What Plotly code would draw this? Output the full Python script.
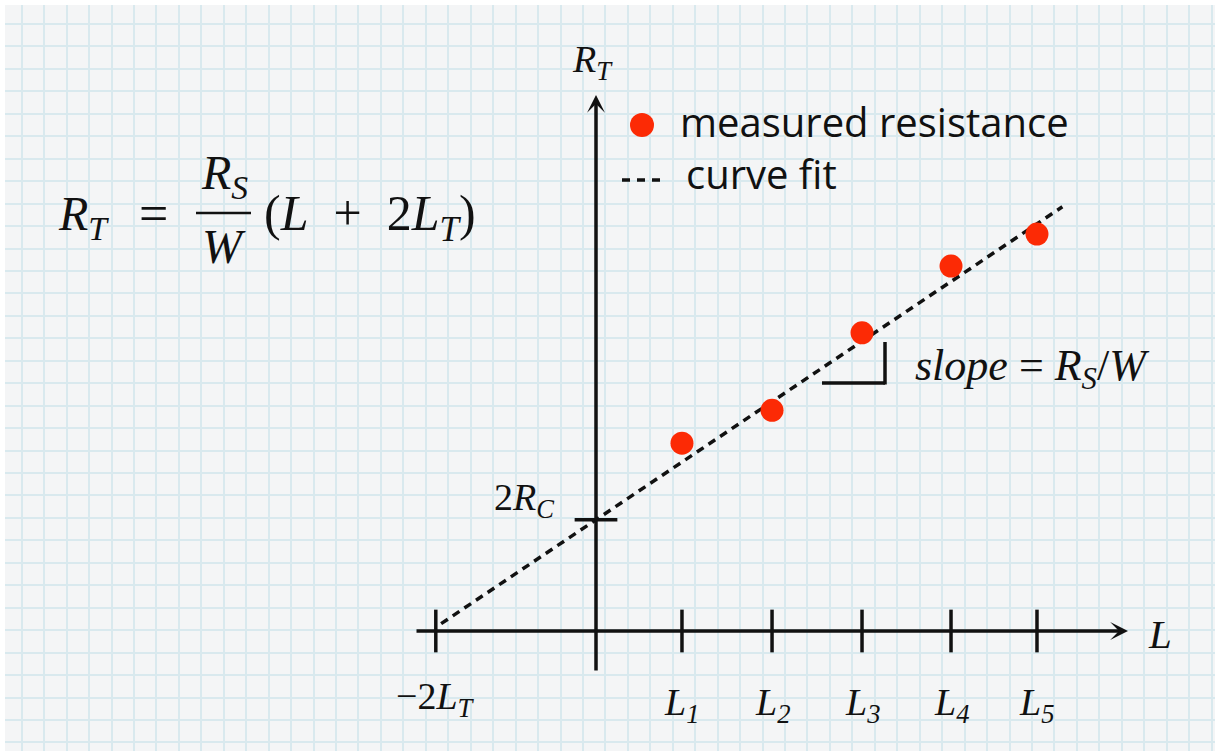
import numpy as np
import plotly.graph_objects as go

# ---- data (arbitrary units: L in length units, R_T in resistance units) ----
tick_labels = ["<i>L</i><sub><i>1</i></sub>", "<i>L</i><sub><i>2</i></sub>",
               "<i>L</i><sub><i>3</i></sub>", "<i>L</i><sub><i>4</i></sub>",
               "<i>L</i><sub><i>5</i></sub>"]
L_values = [9.66, 19.78, 29.89, 39.89, 49.55]
R_measured = [21.1, 24.8, 33.5, 41.0, 44.6]
neg_2LT = -18.0          # x-intercept marker (-2 L_T)
two_RC = 12.5            # y-intercept (2 R_C)
fit_slope = 0.671        # R_S / W
fit_span = [-17.4, 52.4] # extent of the drawn fit line

# ---- styling ----
SERIF = "Liberation Serif"
SANS = "Open Sans"
INK = "#111111"
RED = "#fc2a05"
GRID = "#d9e9ee"
PAPER = "#f4f5f6"
LW = 3.5

# figure pixel geometry: data axes use 8.9 px per unit with origin at (596, 631)
W_PX, H_PX = 1215, 751
ML, MT = 5, 5
PX = 8.9
OX, OY = 596, 631
x_rng = [(ML - OX) / PX, (W_PX - OX) / PX]
y_rng = [(OY - H_PX) / PX, (OY - MT) / PX]

fig = go.Figure()

# fit line  R_T = 2R_C + (R_S/W) L
L_fit = np.array(fit_span)
R_fit = two_RC + fit_slope * L_fit
fig.add_trace(go.Scatter(x=L_fit, y=R_fit, mode="lines",
                         line=dict(color=INK, width=LW, dash="8px,6px"),
                         hoverinfo="skip", showlegend=False))

# axis tick marks on the L axis
tick_pos = [neg_2LT] + L_values
half = 2.4
tx, ty = [], []
for t in tick_pos:
    tx += [t, t, None]
    ty += [-half, half, None]
# 2R_C tick on the R_T axis
tx += [-half, half, None]
ty += [two_RC, two_RC, None]
fig.add_trace(go.Scatter(x=tx, y=ty, mode="lines",
                         line=dict(color=INK, width=LW),
                         hoverinfo="skip", showlegend=False))

# measured points
fig.add_trace(go.Scatter(x=L_values, y=R_measured, mode="markers",
                         marker=dict(color=RED, size=23, line=dict(width=0)),
                         name="measured resistance", showlegend=False))

# pixel-space overlay (graph paper grid + decorations)
fig.add_trace(go.Scatter(x=[None], y=[None], xaxis="x2", yaxis="y2",
                         showlegend=False, hoverinfo="skip"))

ann = []
# axes with arrowheads
ann.append(dict(x=(1128 - OX) / PX, y=0, ax=(415 - OX) / PX, ay=0,
                xref="x", yref="y", axref="x", ayref="y", text="",
                showarrow=True, arrowhead=3, arrowsize=0.85,
                arrowwidth=LW, arrowcolor=INK, standoff=0))
ann.append(dict(x=0, y=(OY - 95) / PX, ax=0, ay=(OY - 672) / PX,
                xref="x", yref="y", axref="x", ayref="y", text="",
                showarrow=True, arrowhead=3, arrowsize=0.85,
                arrowwidth=LW, arrowcolor=INK, standoff=0))

def label(text, x, y, size, xanchor="center", xref="x2", yref="y2",
          xshift=0, yshift=0, family=SERIF):
    ann.append(dict(text=text, x=x, y=y, xref=xref, yref=yref,
                    xanchor=xanchor, yanchor="middle", showarrow=False,
                    xshift=xshift, yshift=yshift,
                    font=dict(family=family, size=size, color=INK)))

# tick labels
for lab, xv in zip(tick_labels, L_values):
    label(lab, xv, 0, 38, xref="x", yref="y", yshift=-(705 - OY))
label("\u22122<i>L</i><sub><i>T</i></sub>", neg_2LT, 0, 38,
      xref="x", yref="y", yshift=-(699 - OY))
label("2<i>R</i><sub><i>C</i></sub>", 0, two_RC, 38, xanchor="right",
      xref="x", yref="y", xshift=-40, yshift=20)

# axis titles
label("<i>R</i><sub><i>T</i></sub>", 570, 62, 38, xanchor="left")
label("<i>L</i>", 1146, 634, 41, xanchor="left")

# slope note
label("<i>slope</i> = <i>R</i><sub><i>S</i></sub>/<i>W</i>", 913, 368, 44,
      xanchor="left")

# formula  R_T = (R_S / W)(L + 2L_T)
label("<i>R</i><sub><i>T</i></sub>", 56, 217, 48, xanchor="left")
label("=", 153, 213, 52)
label("<i>R</i><sub><i>S</i></sub>", 224, 176, 48)
label("<i>W</i>", 224, 246, 48)
label("(<i>L</i>\u2002+\u20022<i>L</i><sub><i>T</i></sub>)", 262, 217, 50,
      xanchor="left")

# legend text
label("measured resistance", 678, 121, 40, xanchor="left", family=SANS)
label("curve fit", 684, 173, 40, xanchor="left", family=SANS)

shapes = [
    # fraction bar
    dict(type="line", xref="x2", yref="y2", x0=196, x1=251, y0=213, y1=213,
         line=dict(color=INK, width=2.5)),
    # slope bracket
    dict(type="line", xref="x", yref="y",
         x0=(822 - OX) / PX, x1=(885 - OX) / PX,
         y0=(OY - 383) / PX, y1=(OY - 383) / PX,
         line=dict(color=INK, width=LW)),
    dict(type="line", xref="x", yref="y",
         x0=(885 - OX) / PX, x1=(885 - OX) / PX,
         y0=(OY - 384.5) / PX, y1=(OY - 342) / PX,
         line=dict(color=INK, width=LW)),
    # legend keys
    dict(type="circle", xref="x2", yref="y2", x0=630, x1=654, y0=113, y1=137,
         fillcolor=RED, line=dict(width=0)),
    dict(type="line", xref="x2", yref="y2", x0=622, x1=660, y0=180, y1=180,
         line=dict(color=INK, width=3.5, dash="8px,7px")),
]

fig.update_layout(
    width=W_PX, height=H_PX,
    margin=dict(l=ML, r=0, t=MT, b=0, pad=0),
    paper_bgcolor="white", plot_bgcolor=PAPER,
    showlegend=False,
    xaxis=dict(range=x_rng, visible=False, fixedrange=True),
    yaxis=dict(range=y_rng, visible=False, fixedrange=True),
    xaxis2=dict(range=[ML, W_PX], overlaying="x", anchor="y2",
                showgrid=True, gridcolor=GRID, gridwidth=1.6,
                tick0=21.7, dtick=22.45, showticklabels=False, ticks="",
                zeroline=False, showline=False, fixedrange=True),
    yaxis2=dict(range=[H_PX, MT], overlaying="y", anchor="x2",
                showgrid=True, gridcolor=GRID, gridwidth=1.6,
                tick0=24, dtick=22.45, showticklabels=False, ticks="",
                zeroline=False, showline=False, fixedrange=True),
    annotations=ann, shapes=shapes,
)

fig.write_html("out.html")
